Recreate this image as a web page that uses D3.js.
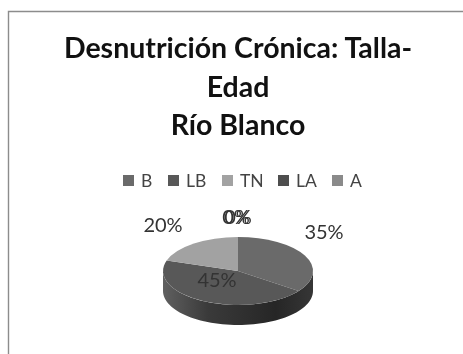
<!DOCTYPE html>
<html lang="es">
<head>
    <meta charset="UTF-8">
    <title>Desnutrición Crónica: Talla-Edad</title>
    <script src="https://d3js.org/d3.v7.min.js"></script>
    <style>
        body { margin: 0; background: #fff; overflow: hidden; }
        svg { display: block; filter: blur(0.6px); font-family: Lato, 'Open Sans', sans-serif; }
    </style>
</head>
<body>
    <script>
        const categories = ["B", "LB", "TN", "LA", "A"];
        const values = [35, 45, 20, 0, 0];
        const colors = ["#6a6a6a", "#585858", "#a2a2a2", "#4e4e4e", "#8a8a8a"];
        const titleLines = ["Desnutrición Crónica: Talla-", "Edad", "Río Blanco"];

        const width = 463;
        const height = 354;

        const cx = 238, cy = 271;
        const rx = 75, ry = 34, depth = 20;

        const svg = d3.select("body")
            .append("svg")
            .attr("width", width)
            .attr("height", height);

        // shading along the wall of the pie
        const grad = svg.append("defs").append("linearGradient")
            .attr("id", "wall")
            .attr("x1", 0).attr("x2", 1).attr("y1", 0).attr("y2", 0);
        grad.append("stop").attr("offset", 0).attr("stop-color", "#606060");
        grad.append("stop").attr("offset", 0.3).attr("stop-color", "#3a3a3a");
        grad.append("stop").attr("offset", 0.75).attr("stop-color", "#262626");
        grad.append("stop").attr("offset", 1).attr("stop-color", "#363636");

        // frame, open on the right and at the bottom
        svg.append("path")
            .attr("d", d3.line()([[8.5, height], [8.5, 11.5], [width, 11.5]]))
            .attr("fill", "none")
            .attr("stroke", "#8c8c8c")
            .attr("stroke-width", 1.4);

        svg.selectAll(".title")
            .data(titleLines)
            .enter()
            .append("text")
            .attr("class", "title")
            .attr("x", 238)
            .attr("y", (d, i) => 58 + i * 38.5)
            .attr("text-anchor", "middle")
            .style("font-size", "28.5px")
            .style("font-weight", "700")
            .style("fill", "#111")
            .text(d => d);

        // legend
        const legendX = d3.scaleOrdinal()
            .domain(categories)
            .range([123, 168, 222, 278, 332]);

        const legend = svg.selectAll(".legend")
            .data(categories)
            .enter()
            .append("g")
            .attr("class", "legend")
            .attr("transform", d => `translate(${legendX(d)},175)`);

        legend.append("rect")
            .attr("width", 11)
            .attr("height", 11)
            .attr("fill", (d, i) => colors[i]);

        legend.append("text")
            .attr("x", 18)
            .attr("y", 12)
            .style("font-size", "17.5px")
            .style("fill", "#444")
            .text(d => d);

        // pie, drawn round and squashed into an ellipse
        const pie = d3.pie().sort(null).value(d => d)(values);
        const arc = d3.arc().innerRadius(0).outerRadius(rx);

        const wallPath = d3.area()
            .x(t => cx + rx * Math.sin(t))
            .y0(t => cy - ry * Math.cos(t))
            .y1(t => cy - ry * Math.cos(t) + depth);

        const frontAngles = d3.range(0, 61).map(i => Math.PI / 2 + i * Math.PI / 60);

        svg.append("path")
            .attr("d", wallPath(frontAngles))
            .attr("fill", "url(#wall)");

        svg.append("g")
            .attr("transform", `translate(${cx},${cy}) scale(1,${ry / rx})`)
            .selectAll("path")
            .data(pie)
            .enter()
            .append("path")
            .attr("d", arc)
            .attr("fill", (d, i) => colors[i]);

        // labels sit outside the pie apart from the big slice
        const labelAt = [[324, 239], [217, 287], [163, 232], [236, 224], [238, 224]];

        svg.selectAll(".pct")
            .data(values)
            .enter()
            .append("text")
            .attr("class", "pct")
            .attr("x", (d, i) => labelAt[i][0])
            .attr("y", (d, i) => labelAt[i][1])
            .attr("text-anchor", "middle")
            .style("font-size", "20px")
            .style("fill", "#333")
            .text(d => d + "%");
    </script>
</body>
</html>
